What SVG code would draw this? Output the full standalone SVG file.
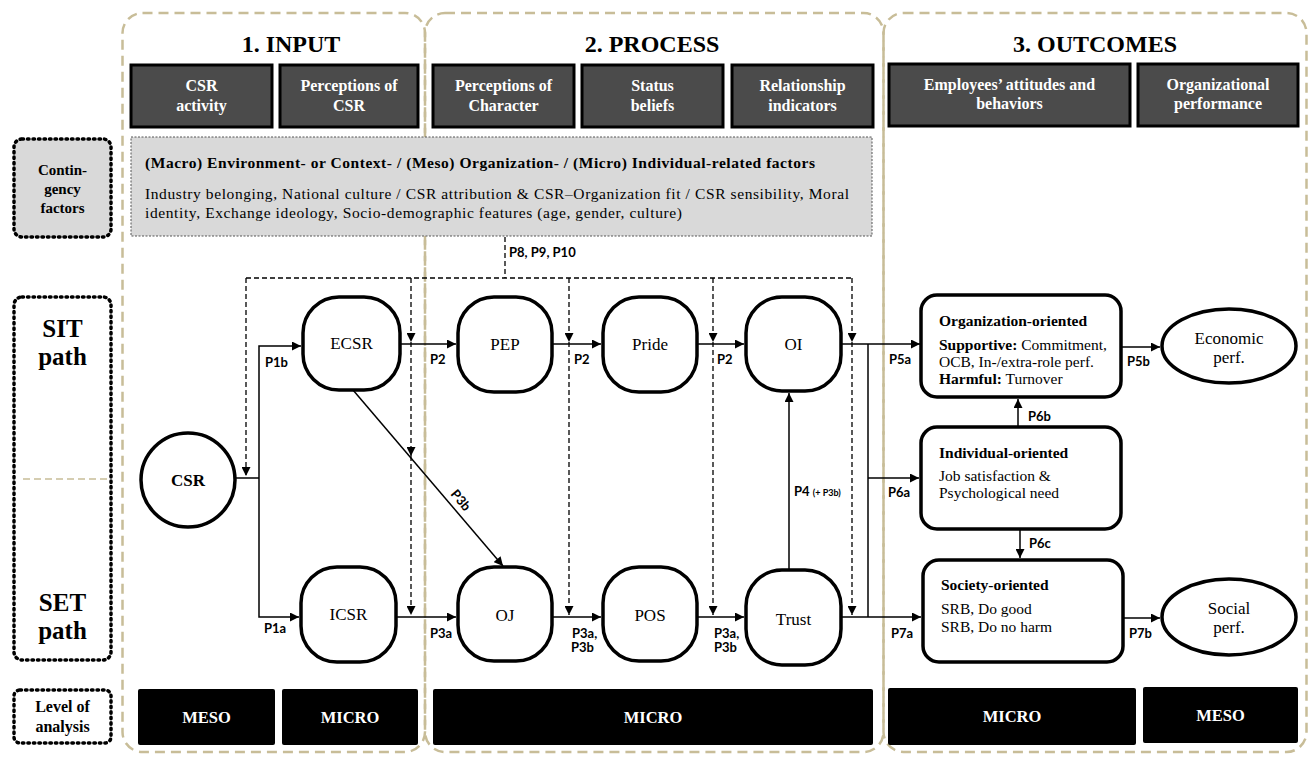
<svg xmlns="http://www.w3.org/2000/svg" width="1309" height="757" viewBox="0 0 1309 757">
<style>
.col{fill:none;stroke:#c8bd98;stroke-width:2.5;stroke-dasharray:10,6}
.lbl{fill:#d9d9d9;stroke:#000;stroke-width:3.5;stroke-dasharray:1.5,4;stroke-linecap:round}
.lbl2{fill:#fff;stroke:#000;stroke-width:3.5;stroke-dasharray:1.5,4;stroke-linecap:round}
.hdr{fill:#4b4b4b;stroke:#000;stroke-width:3}
.hdrt{font-family:"Liberation Serif",serif;font-weight:bold;font-size:16px;fill:#fff;text-anchor:middle}
.title{font-family:"Liberation Serif",serif;font-weight:bold;font-size:24px;fill:#000;text-anchor:middle}
.bar{fill:#000}
.bart{font-family:"Liberation Serif",serif;font-weight:bold;font-size:16.5px;fill:#fff;text-anchor:middle}
.side{font-family:"Liberation Serif",serif;font-weight:bold;fill:#000;text-anchor:middle}
.node{fill:#fff;stroke:#000;stroke-width:3.5}
.nt{font-family:"Liberation Serif",serif;font-size:17px;fill:#000;text-anchor:middle}
.bt{font-family:"Liberation Serif",serif;font-size:15.5px;fill:#000}
.p{font-family:Lato,"Liberation Sans",sans-serif;font-weight:bold;font-size:13px;fill:#000}
.sl{fill:none;stroke:#000;stroke-width:1.5}
.dl{fill:none;stroke:#000;stroke-width:1.3;stroke-dasharray:5,3}
</style>
<defs>
<marker id="ah" viewBox="0 0 10 10" refX="10" refY="5" markerWidth="10" markerHeight="9" markerUnits="userSpaceOnUse" orient="auto">
<path d="M0,0 L10,5 L0,10 Z" fill="#000"/>
</marker>
</defs>
<rect width="1309" height="757" fill="#fff"/>

<g id="columns">
<rect class="col" x="122.5" y="13" width="302.5" height="739" rx="20"/>
<rect class="col" x="425" y="13" width="458.5" height="739" rx="20"/>
<rect class="col" x="883.5" y="13" width="423" height="739" rx="20"/>
</g>

<g id="titles">
<text class="title" x="291" y="52">1.  INPUT</text>
<text class="title" x="652" y="52">2. PROCESS</text>
<text class="title" x="1095" y="52">3. OUTCOMES</text>
</g>

<g id="headers">
<rect class="hdr" x="131" y="65" width="141" height="62"/>
<text class="hdrt" x="201.5" y="91">CSR</text><text class="hdrt" x="201.5" y="111">activity</text>
<rect class="hdr" x="280" y="65" width="138" height="62"/>
<text class="hdrt" x="349" y="91">Perceptions of</text><text class="hdrt" x="349" y="111">CSR</text>
<rect class="hdr" x="433" y="65" width="141" height="62"/>
<text class="hdrt" x="503.5" y="91">Perceptions of</text><text class="hdrt" x="503.5" y="111">Character</text>
<rect class="hdr" x="582" y="65" width="141" height="62"/>
<text class="hdrt" x="652.5" y="91">Status</text><text class="hdrt" x="652.5" y="111">beliefs</text>
<rect class="hdr" x="732" y="65" width="141" height="62"/>
<text class="hdrt" x="802.5" y="91">Relationship</text><text class="hdrt" x="802.5" y="111">indicators</text>
<rect class="hdr" x="889" y="64" width="241" height="62"/>
<text class="hdrt" x="1009.5" y="90">Employees’ attitudes and</text><text class="hdrt" x="1009.5" y="109">behaviors</text>
<rect class="hdr" x="1138" y="64" width="160" height="62"/>
<text class="hdrt" x="1218" y="90">Organizational</text><text class="hdrt" x="1218" y="109">performance</text>
</g>

<g id="contingency-box">
<rect x="131" y="137" width="741" height="99" fill="#d9d9d9" stroke="#555" stroke-width="1" stroke-dasharray="2,1.5"/>
<text class="bt" x="145" y="168" font-weight="bold" font-size="15.5" textLength="670" lengthAdjust="spacing">(Macro) Environment- or Context- / (Meso) Organization- / (Micro) Individual-related factors</text>
<text class="bt" x="145" y="199" font-size="15.5" textLength="704" lengthAdjust="spacing">Industry belonging, National culture / CSR attribution &amp; CSR–Organization fit / CSR sensibility, Moral</text>
<text class="bt" x="145" y="218" font-size="15.5" textLength="537" lengthAdjust="spacing">identity, Exchange ideology, Socio-demographic features (age, gender, culture)</text>
</g>

<g id="side-labels">
<rect class="lbl" x="14" y="139" width="97" height="98" rx="8"/>
<text class="side" font-size="15" x="62.5" y="175">Contin-</text>
<text class="side" font-size="15" x="62.5" y="194">gency</text>
<text class="side" font-size="15" x="62.5" y="213">factors</text>
<rect class="lbl2" x="14" y="297" width="97" height="363" rx="8"/>
<line x1="23" y1="479" x2="110" y2="479" stroke="#c8bd98" stroke-width="1.5" stroke-dasharray="7,4"/>
<text class="side" font-size="25" x="62.5" y="337">SIT</text>
<text class="side" font-size="25" x="62.5" y="365">path</text>
<text class="side" font-size="25" x="62.5" y="611">SET</text>
<text class="side" font-size="25" x="62.5" y="639">path</text>
<rect class="lbl2" x="14" y="690" width="97" height="53" rx="6"/>
<text class="side" font-size="16" x="62.5" y="712">Level of</text>
<text class="side" font-size="16" x="62.5" y="732">analysis</text>
</g>

<g id="levels">
<rect class="bar" x="138" y="689" width="137" height="56" rx="2"/><text class="bart" x="206.5" y="723">MESO</text>
<rect class="bar" x="282" y="689" width="136" height="56" rx="2"/><text class="bart" x="350" y="723">MICRO</text>
<rect class="bar" x="433" y="689" width="440" height="56" rx="2"/><text class="bart" x="653" y="723">MICRO</text>
<rect class="bar" x="888" y="688" width="248" height="57" rx="2"/><text class="bart" x="1012" y="722">MICRO</text>
<rect class="bar" x="1143" y="687" width="155" height="56" rx="2"/><text class="bart" x="1220.5" y="721">MESO</text>
</g>

<g id="connectors">
<path class="sl" d="M235,478 H259"/>
<path class="sl" d="M259,478 V346 H301" marker-end="url(#ah)"/>
<path class="sl" d="M259,478 V617 H299" marker-end="url(#ah)"/>
<path class="sl" d="M400,344 H456" marker-end="url(#ah)"/>
<path class="sl" d="M552,344 H601" marker-end="url(#ah)"/>
<path class="sl" d="M697,344 H744" marker-end="url(#ah)"/>
<path class="sl" d="M396,617 H456" marker-end="url(#ah)"/>
<path class="sl" d="M552,617 H601" marker-end="url(#ah)"/>
<path class="sl" d="M697,617 H744" marker-end="url(#ah)"/>
<path class="sl" d="M353,390 L503,566" marker-end="url(#ah)"/>
<path class="sl" d="M789,570 V393" marker-end="url(#ah)"/>
<path class="sl" d="M841,344 H920" marker-end="url(#ah)"/>
<path class="sl" d="M868,344 V617"/>
<path class="sl" d="M868,478 H919" marker-end="url(#ah)"/>
<path class="sl" d="M841,617 H921" marker-end="url(#ah)"/>
<path class="sl" d="M1121,347 H1160" marker-end="url(#ah)"/>
<path class="sl" d="M1123,618 H1160" marker-end="url(#ah)"/>
<path class="sl" d="M1018,427 V399" marker-end="url(#ah)"/>
<path class="sl" d="M1020,529 V558" marker-end="url(#ah)"/>

<path class="dl" d="M505,237 V278"/>
<path class="dl" d="M246,278 H852"/>
<path class="dl" d="M246,278 V476" marker-end="url(#ah)"/>
<path class="dl" d="M411,278 V342" marker-end="url(#ah)"/>
<path class="dl" d="M411,342 V456" marker-end="url(#ah)"/>
<path class="dl" d="M411,456 V615" marker-end="url(#ah)"/>
<path class="dl" d="M569,278 V342" marker-end="url(#ah)"/>
<path class="dl" d="M569,342 V615" marker-end="url(#ah)"/>
<path class="dl" d="M713,278 V342" marker-end="url(#ah)"/>
<path class="dl" d="M713,342 V615" marker-end="url(#ah)"/>
<path class="dl" d="M852,278 V342" marker-end="url(#ah)"/>
<path class="dl" d="M852,342 V615" marker-end="url(#ah)"/>

<text class="p" x="265" y="367">P1b</text>
<text class="p" x="264" y="633">P1a</text>
<text class="p" x="430" y="364">P2</text>
<text class="p" x="574" y="364">P2</text>
<text class="p" x="717" y="364">P2</text>
<text class="p" x="430" y="638">P3a</text>
<text class="p" x="572" y="638">P3a,</text>
<text class="p" x="571" y="652">P3b</text>
<text class="p" x="714" y="638">P3a,</text>
<text class="p" x="714" y="652">P3b</text>
<text class="p" x="460" y="501" text-anchor="middle" dominant-baseline="middle" transform="rotate(50 460 501)">P3b</text>
<text class="p" x="509" y="257">P8, P9, P10</text>
<text class="p" x="794" y="496">P4 <tspan font-size="9">(+ P3b)</tspan></text>
<text class="p" x="889" y="364">P5a</text>
<text class="p" x="888" y="497">P6a</text>
<text class="p" x="891" y="638">P7a</text>
<text class="p" x="1127" y="366">P5b</text>
<text class="p" x="1129" y="638">P7b</text>
<text class="p" x="1028" y="421">P6b</text>
<text class="p" x="1029" y="548">P6c</text>
</g>

<g id="node-CSR">
<circle class="node" cx="188" cy="480" r="47"/>
<text class="nt" x="188" y="486" font-weight="bold">CSR</text>
</g>
<g id="node-ECSR">
<rect class="node" x="303" y="297" width="97" height="93" rx="36"/>
<text class="nt" x="351.5" y="349">ECSR</text>
</g>
<g id="node-ICSR">
<rect class="node" x="301" y="567" width="95" height="95" rx="36"/>
<text class="nt" x="348.5" y="620">ICSR</text>
</g>
<g id="node-PEP">
<rect class="node" x="458" y="297" width="94" height="95" rx="36"/>
<text class="nt" x="505" y="350">PEP</text>
</g>
<g id="node-Pride">
<rect class="node" x="603" y="297" width="94" height="95" rx="36"/>
<text class="nt" x="650" y="350">Pride</text>
</g>
<g id="node-OI">
<rect class="node" x="746" y="297" width="95" height="94" rx="36"/>
<text class="nt" x="793.5" y="350">OI</text>
</g>
<g id="node-OJ">
<rect class="node" x="458" y="567" width="94" height="94" rx="36"/>
<text class="nt" x="505" y="621">OJ</text>
</g>
<g id="node-POS">
<rect class="node" x="603" y="567" width="94" height="94" rx="36"/>
<text class="nt" x="650" y="621">POS</text>
</g>
<g id="node-Trust">
<rect class="node" x="746" y="570" width="95" height="95" rx="36"/>
<text class="nt" x="793.5" y="625">Trust</text>
</g>

<g id="node-org">
<rect class="node" x="921" y="295" width="200" height="102" rx="16"/>
<text class="bt" x="939" y="326" font-weight="bold" font-size="16.5">Organization-oriented</text>
<text class="bt" x="939" y="350"><tspan font-weight="bold">Supportive:</tspan> Commitment,</text>
<text class="bt" x="939" y="367">OCB, In-/extra-role perf.</text>
<text class="bt" x="939" y="384"><tspan font-weight="bold">Harmful:</tspan> Turnover</text>
</g>
<g id="node-ind">
<rect class="node" x="921" y="427" width="200" height="102" rx="16"/>
<text class="bt" x="939" y="458" font-weight="bold" font-size="16.5">Individual-oriented</text>
<text class="bt" x="939" y="481">Job satisfaction &amp;</text>
<text class="bt" x="939" y="498">Psychological need</text>
</g>
<g id="node-soc">
<rect class="node" x="923" y="560" width="200" height="102" rx="16"/>
<text class="bt" x="941" y="590" font-weight="bold" font-size="16.5">Society-oriented</text>
<text class="bt" x="941" y="614">SRB, Do good</text>
<text class="bt" x="941" y="632">SRB, Do no harm</text>
</g>
<g id="node-econ">
<ellipse class="node" cx="1229" cy="346" rx="67" ry="37"/>
<text class="nt" x="1229" y="344">Economic</text>
<text class="nt" x="1229" y="363">perf.</text>
</g>
<g id="node-social">
<ellipse class="node" cx="1229" cy="617" rx="67" ry="38"/>
<text class="nt" x="1229" y="614">Social</text>
<text class="nt" x="1229" y="633">perf.</text>
</g>
</svg>
